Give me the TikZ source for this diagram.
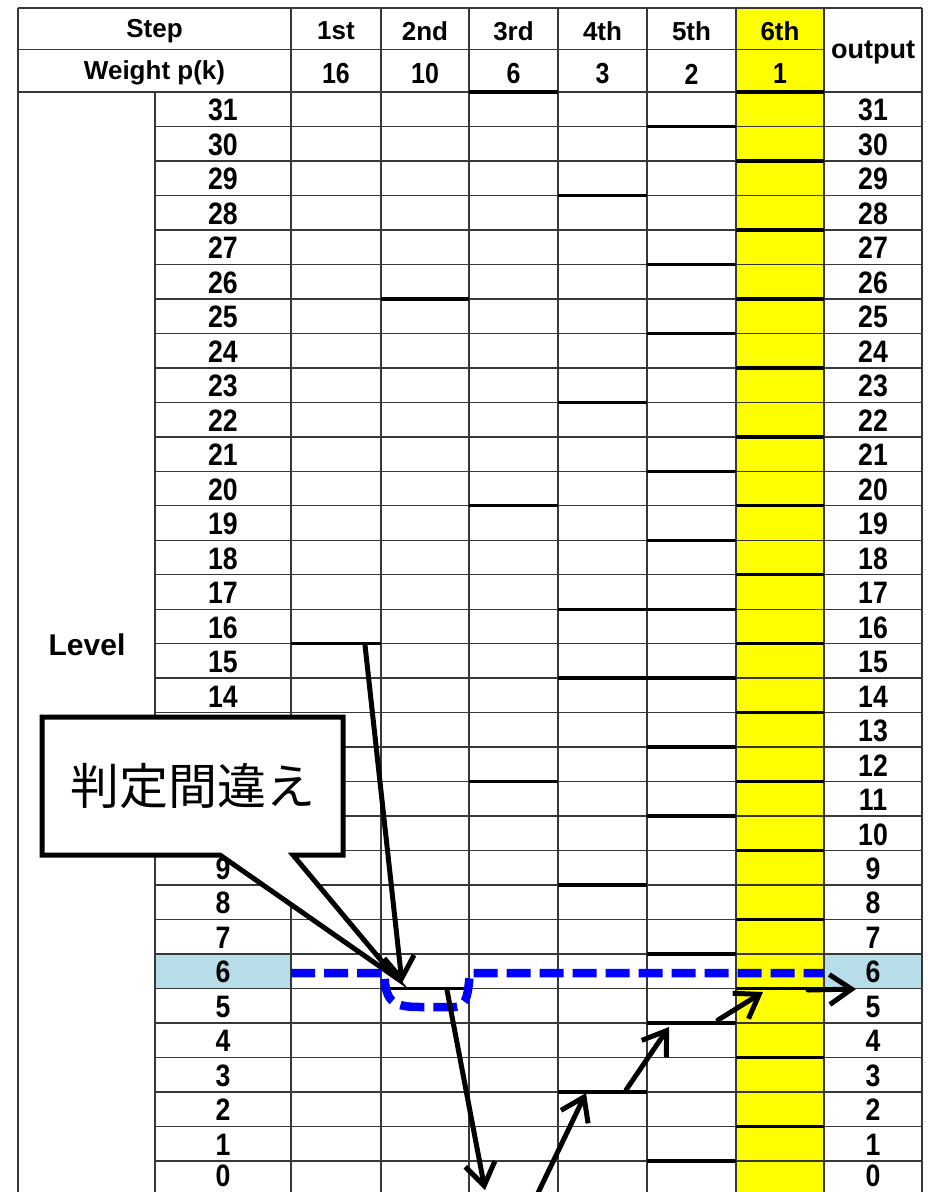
\documentclass[tikz,border=0pt]{standalone}
\usepackage{fontspec}
\usetikzlibrary{arrows.meta}
\newfontfamily\lvfont{Liberation Sans}
\newfontfamily\nfont[FakeStretch=0.86,BoldFont={Liberation Sans Bold}]{Liberation Sans}
\newfontfamily\cjkfont{Noto Sans CJK JP}
\definecolor{rowblue}{RGB}{183,222,232}
\definecolor{gridc}{RGB}{55,55,55}
\definecolor{hiyellow}{RGB}{255,255,0}
\definecolor{dashblue}{RGB}{0,0,255}
\begin{document}
\begin{tikzpicture}[x=1pt,y=-1pt,
  grid/.style={gridc,line width=1.4pt},
  thk/.style={black,line width=3.4pt},
  num/.style={inner sep=0pt,font=\nfont\bfseries\fontsize{31}{31}\selectfont},
  hdr/.style={inner sep=0pt,font=\lvfont\bfseries\fontsize{26}{26}\selectfont},
  wnum/.style={inner sep=0pt,font=\nfont\bfseries\fontsize{29}{29}\selectfont},
  arr/.style={black,line width=5pt,line cap=round,-{Straight Barb[length=22pt,width=30pt]}},
  bluedash/.style={dashblue,line width=8.5pt,dash pattern=on 24pt off 9pt}]
\useasboundingbox (0,0) rectangle (927,1192);
\clip (0,0) rectangle (927,1192);
% fills
\fill[hiyellow] (736,8) rectangle (824,1200);
\fill[rowblue] (155,954) rectangle (291,988.5);
\fill[rowblue] (824,954) rectangle (922,988.5);
% header grid
\draw[grid] (18,8) -- (922,8);
\draw[grid] (18,49.5) -- (824,49.5);
\draw[grid] (18,92) -- (922,92);
\draw[grid] (18,8) -- (18,1200);
\draw[grid] (155,92) -- (155,1200);
\foreach \x in {291,381,469,558,647,736,824,922}
  \draw[grid] (\x,8) -- (\x,1200);
\foreach \k in {1,...,31}
  \draw[grid] (155,{92+(32-\k)*34.48}) -- (922,{92+(32-\k)*34.48});
% thick threshold segments
\foreach \k in {16}
  \draw[thk] (291,{92+(32-\k)*34.48}) -- (381,{92+(32-\k)*34.48});
\foreach \k in {26,6}
  \draw[thk] (381,{92+(32-\k)*34.48}) -- (469,{92+(32-\k)*34.48});
\foreach \k in {32,20,12}
  \draw[thk] (469,{92+(32-\k)*34.48}) -- (558,{92+(32-\k)*34.48});
\foreach \k in {29,23,17,15,9,3}
  \draw[thk] (558,{92+(32-\k)*34.48}) -- (647,{92+(32-\k)*34.48});
\foreach \k in {31,27,25,21,19,17,15,13,11,7,5,1}
  \draw[thk] (647,{92+(32-\k)*34.48}) -- (736,{92+(32-\k)*34.48});
\foreach \k in {32,30,...,2}
  \draw[thk] (736,{92+(32-\k)*34.48}) -- (824,{92+(32-\k)*34.48});
% header texts
\node[hdr] (step) at (154.5,31) {Step};
\node[hdr] (weight) at (154.5,73) {Weight p(k)};
\node[hdr] (h1) at (336,31) {1st};
\node[hdr] (h2) at (425,31) {2nd};
\node[hdr] (h3) at (513.5,31) {3rd};
\node[hdr] (h4) at (602.5,31) {4th};
\node[hdr] (h5) at (691.5,31) {5th};
\node[hdr] (h6) at (780,31) {6th};
\node[wnum] (w1) at (336,74) {16};
\node[wnum] (w2) at (425,74) {10};
\node[wnum] (w3) at (513.5,74) {6};
\node[wnum] (w4) at (602.5,74) {3};
\node[wnum] (w5) at (691.5,74) {2};
\node[wnum] (w6) at (780,74) {1};
\node[inner sep=0pt,font=\lvfont\bfseries\fontsize{27}{27}\selectfont] (outh) at (873,52) {output};
\node[inner sep=0pt,font=\lvfont\bfseries\fontsize{30}{30}\selectfont] (level) at (87,645) {Level};
% level numbers
\foreach \k in {1,...,9,14,15,...,31}
  \node[num] (lv\k) at (223,{93+(31.5-\k)*34.48}) {\k};
\foreach \k in {1,...,31}
  \node[num] (out\k) at (873,{93+(31.5-\k)*34.48}) {\k};
\node[num] (lv0) at (223,1176) {0};
\node[num] (out0) at (873,1176) {0};
% blue dashed path
\coordinate (bd0) at (291,973);
\coordinate (bd1) at (824,973);
\draw[bluedash] (bd0) -- (384,973) .. controls (386,1000) and (390,1007) .. (420,1007)
  -- (455,1007) .. controls (468,1007) and (468,990) .. (470,973) -- (bd1);
% callout
\coordinate (tip) at (395,977);
\draw[black,line width=5pt,fill=white,line join=miter]
  (42,717) -- (343,717) -- (343,855) -- (293,855) -- (tip) -- (220,855) -- (42,855) -- cycle;
\node[inner sep=0pt,font=\cjkfont\fontsize{49}{49}\selectfont] (callout) at (193,786) {判定間違え};
% arrows
\coordinate (a1s) at (365,645);  \coordinate (a1e) at (402,983);
\coordinate (a2s) at (447,990);  \coordinate (a2e) at (485,1190);
\coordinate (a3s) at (537,1195); \coordinate (a3e) at (586,1093);
\coordinate (a4s) at (626,1090); \coordinate (a4e) at (669,1027);
\coordinate (a5s) at (718,1020); \coordinate (a5e) at (763,992);
\coordinate (a6s) at (808,990);  \coordinate (a6e) at (856,989);
\draw[arr] (a1s) -- (a1e);
\draw[arr] (a2s) -- (a2e);
\draw[arr] (a3s) -- (a3e);
\draw[arr] (a4s) -- (a4e);
\draw[arr] (a5s) -- (a5e);
\draw[arr] (a6s) -- (a6e);
\end{tikzpicture}
\end{document}
